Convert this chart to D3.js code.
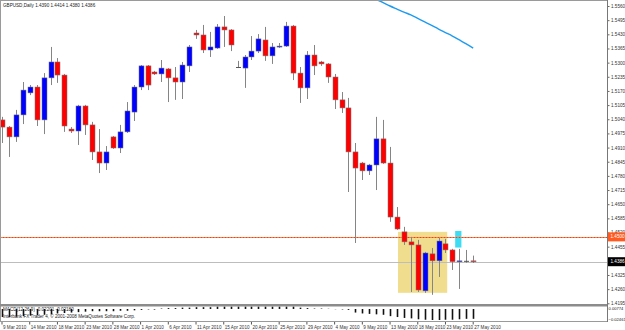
<!DOCTYPE html>
<html><head><meta charset="utf-8">
<script src="https://cdn.jsdelivr.net/npm/d3@7"></script>
<style>
html,body{margin:0;padding:0;background:#fff;}
svg{display:block;font-family:"Liberation Sans",Arial,sans-serif;}
</style></head><body>
<svg id="c" width="625" height="330"></svg>
<script>
const dates = ["2010-03-09","2010-03-10","2010-03-11","2010-03-12","2010-03-14","2010-03-15","2010-03-16","2010-03-17","2010-03-18","2010-03-19",
"2010-03-21","2010-03-22","2010-03-23","2010-03-24","2010-03-25","2010-03-26","2010-03-28","2010-03-29","2010-03-30","2010-03-31",
"2010-04-01","2010-04-02","2010-04-04","2010-04-05","2010-04-06","2010-04-07","2010-04-08","2010-04-09","2010-04-11","2010-04-12",
"2010-04-13","2010-04-14","2010-04-15","2010-04-16","2010-04-18","2010-04-19","2010-04-20","2010-04-21","2010-04-22","2010-04-23",
"2010-04-25","2010-04-26","2010-04-27","2010-04-28","2010-04-29","2010-04-30","2010-05-02","2010-05-03","2010-05-04","2010-05-05",
"2010-05-06","2010-05-07","2010-05-09","2010-05-10","2010-05-11","2010-05-12","2010-05-13","2010-05-14","2010-05-16","2010-05-17",
"2010-05-18","2010-05-19","2010-05-20","2010-05-21","2010-05-23","2010-05-24","2010-05-25","2010-05-26","2010-05-27"];
const open  = [1.5037,1.5004,1.4959,1.5060,1.5161,1.5188,1.5037,1.5230,1.5303,1.5243,
1.4995,1.4986,1.5101,1.5014,1.4890,1.4839,1.4959,1.4908,1.4982,1.5073,
1.5188,1.5285,1.5257,1.5248,1.5271,1.5230,1.5211,1.5285,1.5436,1.5427,
1.5358,1.5367,1.5464,1.5450,1.5280,1.5275,1.5326,1.5353,1.5404,1.5331,
1.5372,1.5376,1.5468,1.5252,1.5184,1.5335,1.5303,1.5294,1.5234,1.5129,
1.5092,1.4890,1.4839,1.4803,1.4830,1.4950,1.4839,1.4591,1.4523,1.4477,
1.4463,1.4252,1.4422,1.4390,1.4468,1.4440,1.4386,1.4390,1.4390];
const high  = [1.5051,1.5009,1.5083,1.5211,1.5197,1.5197,1.5252,1.5372,1.5321,1.5248,
1.5004,1.5106,1.5106,1.5028,1.4995,1.4917,1.4963,1.5014,1.5119,1.5197,
1.5289,1.5289,1.5262,1.5312,1.5275,1.5280,1.5303,1.5381,1.5450,1.5473,
1.5441,1.5477,1.5514,1.5454,1.5308,1.5335,1.5422,1.5431,1.5464,1.5390,
1.5390,1.5487,1.5473,1.5280,1.5353,1.5381,1.5308,1.5298,1.5248,1.5165,
1.5138,1.4931,1.4844,1.4835,1.5051,1.5037,1.4913,1.4637,1.4546,1.4500,
1.4486,1.4431,1.4449,1.4495,1.4491,1.4445,1.4445,1.4440,1.4414];
const low   = [1.4931,1.4867,1.4936,1.5018,1.5151,1.5009,1.4972,1.5197,1.5207,1.4982,
1.4977,1.4922,1.4968,1.4853,1.4793,1.4807,1.4904,1.4885,1.4977,1.5032,
1.5174,1.5174,1.5243,1.5211,1.5119,1.5129,1.5133,1.5257,1.5409,1.5344,
1.5326,1.5363,1.5372,1.5353,1.5275,1.5184,1.5312,1.5344,1.5308,1.5294,
1.5367,1.5372,1.5220,1.5115,1.5133,1.5243,1.5285,1.5207,1.5087,1.5069,
1.4706,1.4472,1.4761,1.4784,1.4715,1.4835,1.4569,1.4532,1.4463,1.4247,
1.4247,1.4243,1.4234,1.4316,1.4426,1.4348,1.4261,1.4381,1.4380];
const close = [1.5004,1.4959,1.5060,1.5174,1.5188,1.5037,1.5230,1.5303,1.5243,1.5009,
1.4986,1.5101,1.5014,1.4890,1.4839,1.4890,1.4908,1.4982,1.5078,1.5188,
1.5285,1.5197,1.5248,1.5275,1.5230,1.5211,1.5289,1.5372,1.5427,1.5358,
1.5372,1.5464,1.5450,1.5381,1.5280,1.5326,1.5353,1.5409,1.5331,1.5372,
1.5376,1.5468,1.5252,1.5184,1.5335,1.5285,1.5294,1.5234,1.5129,1.5092,
1.4890,1.4816,1.4803,1.4830,1.4950,1.4839,1.4591,1.4536,1.4477,1.4463,
1.4256,1.4426,1.4390,1.4481,1.4440,1.4386,1.4390,1.4390,1.4386];
// moving average (only the visible tail)
const maIndex = [52,53,54,55,56,57,58,59,60,61,62,63,64,65,66,67,68];
const maValues = [1.5620,1.5605,1.5590,1.5576,1.5560,1.5546,1.5532,1.5519,1.5503,1.5487,1.5471,1.5454,1.5438,1.5422,1.5404,1.5386,1.5367];
const macd = [-0.018,-0.018,-0.017,-0.016,-0.015,-0.014,-0.013,-0.012,
-0.010,-0.009,-0.008,-0.007,-0.006,-0.005,
-0.005,-0.005,-0.005,-0.004,-0.004,-0.003,-0.002,
-0.001,0.000,0.001,0.002,0.002,0.003,0.003,0.004,0.004,0.004,
0.005,0.005,0.005,0.005,0.005,0.005,0.005,0.005,0.005,0.005,0.005,0.005,
0.003,0.002,0.001,0.001,
0.0005,-0.0005,-0.001,-0.002,
-0.008,-0.010,-0.011,-0.012,-0.013,-0.016,
-0.018,-0.020,-0.021,-0.023,-0.024,-0.0246,
-0.0246,-0.024,-0.024,-0.023,-0.022,-0.022];
const priceTicks = ["1.5560","1.5495","1.5430","1.5365","1.5300","1.5235","1.5170","1.5105","1.5040","1.4975","1.4910",
"1.4845","1.4780","1.4715","1.4650","1.4585","1.4520","1.4455","1.4390","1.4325","1.4260","1.4195"];
const dateTickIdx = [0,4,8,12,16,20,24,28,32,36,40,44,48,52,56,60,64,68];
const macdRange = [-0.02461, 0.00774];
const levelLine = 1.4500;
const bidPrice = 1.4386;
const yellowBox = {i0:57.15, i1:64.25, p0:1.4523, p1:1.4243};
const cyanBox = {i0:65.4, i1:66.3, p0:1.4527, p1:1.4451};
const headerText = "GBPUSD,Daily  1.4390 1.4414 1.4380 1.4386";
const macdText = "MACD(12,26,9) -0.02201 -0.02180";
const footerText = "Interbank FX Trader 4, \u00a9 2001-2008 MetaQuotes Software Corp.";

const svg = d3.select("#c");
const AX = 607, MAIN_B = 304, IND_T = 306.5, IND_B = 321;
const x = d3.scaleLinear().domain([0, 68]).range([2, 473.2]);
const y = d3.scaleLinear().domain([1.4195, 1.5560]).range([303.3, 6]);
const yM = d3.scaleLinear().domain(macdRange).range([320, 305.5]);
const FS = "4.6px";

svg.append("rect").attr("width",625).attr("height",330).attr("fill","#fff");
svg.append("defs").append("clipPath").attr("id","mc").append("rect")
  .attr("x",1).attr("y",1).attr("width",AX-1).attr("height",MAIN_B-1);
const main = svg.append("g").attr("clip-path","url(#mc)");

// rectangles
main.append("rect").attr("x",x(yellowBox.i0)).attr("width",x(yellowBox.i1)-x(yellowBox.i0))
  .attr("y",y(yellowBox.p0)).attr("height",y(yellowBox.p1)-y(yellowBox.p0)).attr("fill","#f0de8e");
main.append("rect").attr("x",x(cyanBox.i0)).attr("width",x(cyanBox.i1)-x(cyanBox.i0))
  .attr("y",y(cyanBox.p0)).attr("height",y(cyanBox.p1)-y(cyanBox.p0)).attr("fill","#3ddcf2");

// level lines
main.append("line").attr("x1",0).attr("x2",AX).attr("y1",Math.round(y(bidPrice))+0.5).attr("y2",Math.round(y(bidPrice))+0.5)
  .attr("stroke","#bdbdbd").attr("stroke-width",1);
main.append("line").attr("x1",0).attr("x2",AX).attr("y1",Math.round(y(levelLine))+0.5).attr("y2",Math.round(y(levelLine))+0.5)
  .attr("stroke","#ff7a4a").attr("stroke-width",1);
main.append("line").attr("x1",0).attr("x2",AX).attr("y1",Math.round(y(levelLine))+0.5).attr("y2",Math.round(y(levelLine))+0.5)
  .attr("stroke","#ff3c00").attr("stroke-width",1).attr("stroke-dasharray","1,2");

// candles
const idx = d3.range(open.length);
main.selectAll("line.wick").data(idx).join("line").attr("class","wick")
  .attr("x1",i=>Math.round(x(i))+0.5).attr("x2",i=>Math.round(x(i))+0.5)
  .attr("y1",i=>y(high[i])).attr("y2",i=>y(low[i]))
  .attr("stroke","#858585").attr("stroke-width",1);
main.selectAll("rect.body").data(idx).join("rect").attr("class","body")
  .attr("x",i=>Math.round(x(i))-2).attr("width",5)
  .attr("y",i=>y(Math.max(open[i],close[i])))
  .attr("height",i=>Math.max(1, Math.abs(y(open[i])-y(close[i]))))
  .attr("fill",i=>close[i]>open[i]?"#0000ff":(close[i]<open[i]?"#ff0000":"#555"))
  .attr("stroke",i=>close[i]===open[i]?"none":"#7a7a7a").attr("stroke-width",0.5);

// moving average
const maLine = d3.line().x(d=>x(d[0])).y(d=>y(d[1])).curve(d3.curveMonotoneX);
main.append("path").attr("d",maLine(maIndex.map((i,k)=>[i,maValues[k]])))
  .attr("fill","none").attr("stroke","#1e9bf0").attr("stroke-width",1.4);

// frame
svg.append("line").attr("x1",0).attr("x2",AX).attr("y1",0.5).attr("y2",0.5).attr("stroke","#9a9a9a");
svg.append("line").attr("x1",0.5).attr("x2",0.5).attr("y1",0).attr("y2",IND_B).attr("stroke","#9a9a9a");
svg.append("rect").attr("x",0).attr("y",MAIN_B).attr("width",AX).attr("height",2.5).attr("fill","#8c8c8c");
svg.append("line").attr("x1",0).attr("x2",AX).attr("y1",IND_B+0.5).attr("y2",IND_B+0.5).attr("stroke","#9a9a9a");

// price axis
const ya = svg.append("g").attr("transform",`translate(${AX+0.5},0)`)
  .call(d3.axisRight(y).tickValues(priceTicks.map(Number)).tickSize(2).tickPadding(1.5).tickFormat(d3.format(".4f")));
ya.select(".domain").remove();
ya.selectAll("text").attr("font-size",FS).attr("fill","#333").attr("font-family","Liberation Sans, Arial");
ya.selectAll("line").attr("stroke","#666");
svg.append("line").attr("x1",AX+0.5).attr("x2",AX+0.5).attr("y1",0).attr("y2",IND_B+1).attr("stroke","#777");

// price tags
function tag(p, fill, label){
  const yy = y(p);
  svg.append("rect").attr("x",AX+1).attr("y",yy-4.5).attr("width",625-AX-1).attr("height",9).attr("fill",fill);
  svg.append("text").attr("x",AX+3.5).attr("y",yy+1.6).attr("font-size",FS).attr("fill","#fff").text(label);
}
tag(levelLine, "#ff5a1f", d3.format(".4f")(levelLine));
tag(bidPrice, "#000", d3.format(".4f")(bidPrice));

// header
svg.append("text").attr("x",3).attr("y",6.5).attr("font-size",FS).attr("fill","#222").text(headerText);

// MACD histogram
svg.selectAll("line.mh").data(idx).join("line").attr("class","mh")
  .attr("x1",i=>Math.round(x(i))+0.5).attr("x2",i=>Math.round(x(i))+0.5)
  .attr("y1",yM(0)).attr("y2",i=>yM(macd[i])===yM(0)?yM(0)+0.6:yM(macd[i]))
  .attr("stroke","#111").attr("stroke-width",1.6);
svg.append("text").attr("x",3).attr("y",310.5).attr("font-size",FS).attr("fill","#222").text(macdText);
svg.append("text").attr("x",3).attr("y",317.5).attr("font-size",FS).attr("fill","#222").text(footerText);
svg.append("text").attr("x",AX+1.5).attr("y",310).attr("font-size","4.1px").attr("fill","#222").text(d3.format(".5f")(macdRange[1]));
svg.append("text").attr("x",AX+1.5).attr("y",320.5).attr("font-size","4.1px").attr("fill","#222").text(d3.format(".5f")(macdRange[0]));

// date axis
const fmt = d3.timeFormat("%-d %b %Y"), parse = d3.timeParse("%Y-%m-%d");
const xa = svg.append("g").attr("transform",`translate(0,${IND_B+1})`)
  .call(d3.axisBottom(x).tickValues(dateTickIdx).tickSize(2.5).tickPadding(1).tickFormat(i=>fmt(parse(dates[i]))));
xa.select(".domain").remove();
xa.selectAll(".tick line").attr("stroke","#555").attr("transform","translate(-0.5,0)");
xa.selectAll("text").attr("font-size",FS).attr("fill","#333").attr("text-anchor","start").attr("dx",0.5)
  .attr("font-family","Liberation Sans, Arial");
</script>
</body></html>
